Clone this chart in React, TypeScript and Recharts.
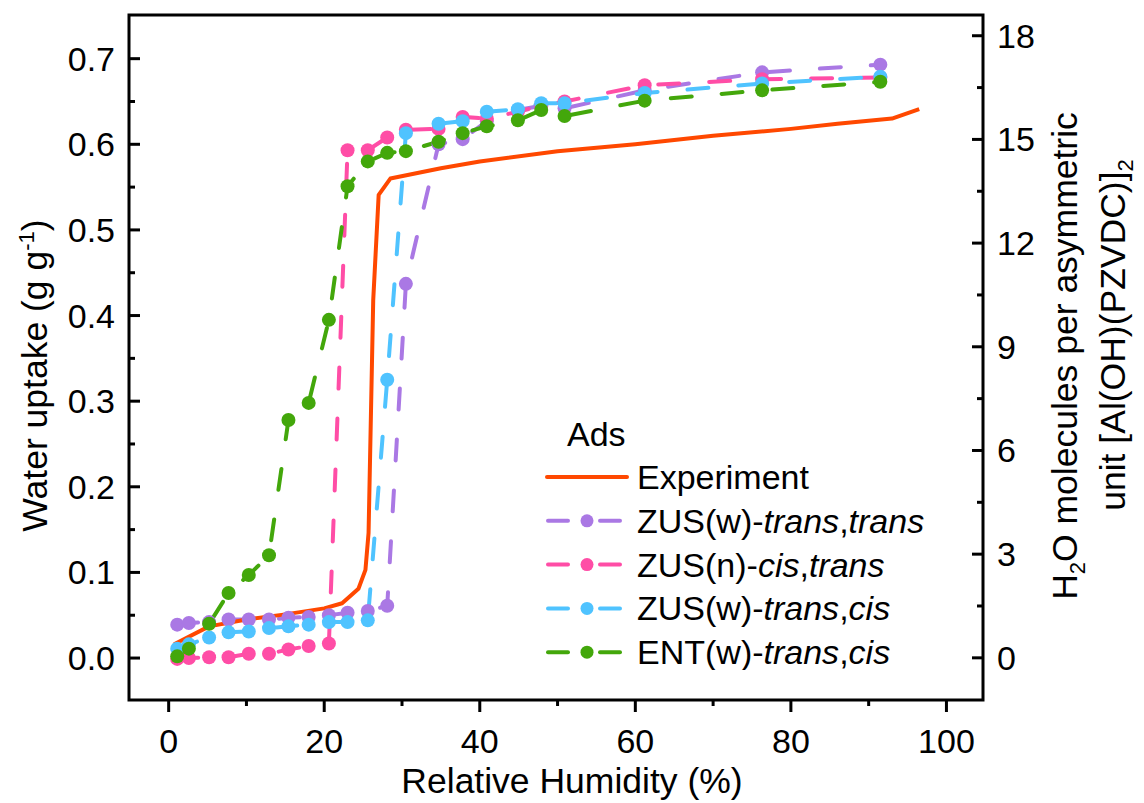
import React from "react";
import { LineChart, Line, XAxis, YAxis, Legend, ReferenceArea } from "recharts";

// relative humidity (%) of the simulated isotherm points
const simRH = [1.1, 2.6, 5.2, 7.7, 10.3, 12.9, 15.4, 18.0, 20.6, 23.0, 25.6, 28.1, 30.5, 34.7, 37.8, 40.9, 44.9, 47.9, 50.9, 61.2, 76.3, 91.5];

// water uptake (g/g)
const zusWTransTrans = [0.039, 0.041, 0.042, 0.045, 0.045, 0.045, 0.047, 0.048, 0.05, 0.053, 0.055, 0.061, 0.437, 0.6, 0.606, 0.627, 0.64, 0.645, 0.642, 0.663, 0.684, 0.693];
const zusNCisTrans = [-0.001, 0.0, 0.001, 0.001, 0.005, 0.005, 0.01, 0.014, 0.017, 0.593, 0.593, 0.608, 0.617, 0.618, 0.632, 0.63, 0.638, 0.645, 0.65, 0.669, 0.676, 0.678];
const zusWTransCis = [0.011, 0.016, 0.024, 0.03, 0.031, 0.035, 0.037, 0.039, 0.042, 0.042, 0.044, 0.325, 0.613, 0.624, 0.627, 0.638, 0.641, 0.648, 0.648, 0.66, 0.671, 0.679];
const entWTransCis = [0.002, 0.011, 0.04, 0.076, 0.097, 0.12, 0.278, 0.298, 0.395, 0.551, 0.58, 0.59, 0.592, 0.603, 0.613, 0.621, 0.628, 0.64, 0.633, 0.651, 0.663, 0.673];

// experimental isotherm
const expRH = [0.7, 5.2, 10, 15, 20, 22.3, 24.4, 25.3, 25.7, 26.3, 27.0, 28.5, 35, 40, 50, 60, 70, 80, 86, 93, 96.5];
const expUptake = [0.016, 0.037, 0.045, 0.051, 0.058, 0.064, 0.081, 0.103, 0.146, 0.418, 0.541, 0.56, 0.572, 0.58, 0.592, 0.6, 0.61, 0.618, 0.624, 0.63, 0.641];

// axis ticks
const rhTicks = [0, 10, 20, 30, 40, 50, 60, 70, 80, 90, 100];
const rhLabels = [0, 20, 40, 60, 80, 100];
const uptakeTicks = [0, 0.05, 0.1, 0.15, 0.2, 0.25, 0.3, 0.35, 0.4, 0.45, 0.5, 0.55, 0.6, 0.65, 0.7];
const uptakeLabels = [0, 0.1, 0.2, 0.3, 0.4, 0.5, 0.6, 0.7];
const moleculeTicks = [0, 1.5, 3, 4.5, 6, 7.5, 9, 10.5, 12, 13.5, 15, 16.5, 18];
const moleculeLabels = [0, 3, 6, 9, 12, 15, 18];

const ORANGE = "#FF4800";
const PURPLE = "#AA78E4";
const PINK = "#FF4DA6";
const BLUE = "#4FC3FF";
const GREEN = "#43A70B";

const FONT = "'Liberation Sans', Arial, sans-serif";
const TICK_FONT = 34;
const TITLE_FONT = 35.5;
const LEGEND_FONT = 34;

const toPoints = (xs: number[], ys: number[]) => xs.map((x, i) => ({ rh: x, uptake: ys[i] }));
const isIn = (list: number[], v: number) => list.some((m) => Math.abs(m - v) < 1e-6);

// bottom ticks point out, left/right ticks point into the frame
const XTick = (props: any) => {
  const { x, y, payload } = props;
  const major = isIn(rhLabels, payload.value);
  return (
    <g>
      <line x1={x} x2={x} y1={y} y2={y + (major ? 12 : 6)} stroke="#000" strokeWidth={3} />
      {major && (
        <text x={x} y={y + 53} textAnchor="middle" fontSize={TICK_FONT} fontFamily={FONT} fill="#000">
          {payload.value}
        </text>
      )}
    </g>
  );
};

const LeftTick = (props: any) => {
  const { x, y, payload } = props;
  const major = isIn(uptakeLabels, payload.value);
  return (
    <g>
      <line x1={x} x2={x + (major ? 11 : 6)} y1={y} y2={y} stroke="#000" strokeWidth={3} />
      {major && (
        <text x={x - 14} y={y + 12} textAnchor="end" fontSize={TICK_FONT} fontFamily={FONT} fill="#000">
          {payload.value.toFixed(1)}
        </text>
      )}
    </g>
  );
};

const RightTick = (props: any) => {
  const { x, y, payload } = props;
  const major = isIn(moleculeLabels, payload.value);
  return (
    <g>
      <line x1={x} x2={x - (major ? 11 : 6)} y1={y} y2={y} stroke="#000" strokeWidth={3} />
      {major && (
        <text x={x + 14} y={y + 12} textAnchor="start" fontSize={TICK_FONT} fontFamily={FONT} fill="#000">
          {payload.value}
        </text>
      )}
    </g>
  );
};

const XTitle = (props: any) => {
  const { x, y, width } = props.viewBox;
  return (
    <text x={x + width / 2 + 16} y={y + 93} textAnchor="middle" fontSize={TITLE_FONT} fontFamily={FONT} fill="#000">
      Relative Humidity (%)
    </text>
  );
};

const LeftTitle = (props: any) => {
  const { x, y, height } = props.viewBox;
  const cx = x + 47;
  const cy = y + height / 2 + 18;
  return (
    <text x={cx} y={cy} transform={`rotate(-90 ${cx} ${cy})`} textAnchor="middle" fontSize={TITLE_FONT} fontFamily={FONT} fill="#000">
      Water uptake (g g
      <tspan dy={-13} fontSize={22}>-1</tspan>
      <tspan dy={13}>)</tspan>
    </text>
  );
};

const RightTitle = (props: any) => {
  const { x } = props.viewBox;
  const x1 = x + 94;
  const y1 = 356;
  const x2 = x + 142;
  const y2 = 335;
  return (
    <g>
      <text x={x1} y={y1} transform={`rotate(-90 ${x1} ${y1})`} textAnchor="middle" fontSize={TITLE_FONT} fontFamily={FONT} fill="#000">
        H<tspan dy={8} fontSize={22}>2</tspan>
        <tspan dy={-8}>O molecules per asymmetric</tspan>
      </text>
      <text x={x2} y={y2} transform={`rotate(-90 ${x2} ${y2})`} textAnchor="middle" fontSize={TITLE_FONT} fontFamily={FONT} fill="#000">
        unit [Al(OH)(PZVDC)]<tspan dy={8} fontSize={22}>2</tspan>
      </text>
    </g>
  );
};

const legendRows = [
  { color: ORANGE, dashed: false, label: [["Experiment", false]] },
  { color: PURPLE, dashed: true, label: [["ZUS(w)-", false], ["trans", true], [",", false], ["trans", true]] },
  { color: PINK, dashed: true, label: [["ZUS(n)-", false], ["cis", true], [",", false], ["trans", true]] },
  { color: BLUE, dashed: true, label: [["ZUS(w)-", false], ["trans", true], [",", false], ["cis", true]] },
  { color: GREEN, dashed: true, label: [["ENT(w)-", false], ["trans", true], [",", false], ["cis", true]] },
];

const renderLegend = () => (
  <svg width={410} height={265} style={{ display: "block" }}>
    <text x={27} y={41} fontSize={LEGEND_FONT} fontFamily={FONT} fill="#000">
      Ads
    </text>
    {legendRows.map((row, i) => {
      const cy = 72 + i * 43.8;
      return (
        <g key={i}>
          {row.dashed ? (
            <g>
              <line x1={8} x2={28} y1={cy} y2={cy} stroke={row.color} strokeWidth={4} strokeLinecap="round" />
              <line x1={60} x2={80} y1={cy} y2={cy} stroke={row.color} strokeWidth={4} strokeLinecap="round" />
              <circle cx={47} cy={cy} r={6.5} fill={row.color} />
            </g>
          ) : (
            <line x1={7} x2={87} y1={cy} y2={cy} stroke={row.color} strokeWidth={4} strokeLinecap="round" />
          )}
          <text x={97} y={cy + 12} fontSize={LEGEND_FONT} fontFamily={FONT} fill="#000">
            {row.label.map(([t, it], j) => (
              <tspan key={j} fontStyle={it ? "italic" : "normal"}>
                {t as string}
              </tspan>
            ))}
          </text>
        </g>
      );
    })}
  </svg>
);

const simLine = (data: number[], color: string) => (
  <Line
    data={toPoints(simRH, data)}
    dataKey="uptake"
    yAxisId="left"
    type="linear"
    stroke={color}
    strokeWidth={4}
    strokeDasharray="21 30"
    strokeLinecap="round"
    dot={{ r: 7, fill: color, stroke: "none" }}
    activeDot={false}
    isAnimationActive={false}
  />
);

export default function App() {
  return (
    <div style={{ position: "absolute", left: 0, top: 0, width: 1144, height: 803, background: "#fff" }}>
      <LineChart width={1144} height={803} margin={{ top: 15, right: 0, bottom: 0, left: 0 }}>
        <XAxis
          dataKey="rh"
          type="number"
          domain={[-5.1, 104.7]}
          allowDataOverflow
          ticks={rhTicks}
          interval={0}
          tick={XTick}
          tickLine={false}
          tickSize={0}
          tickMargin={0}
          axisLine={false}
          height={103}
          label={{ content: XTitle }}
        />
        <YAxis
          yAxisId="left"
          type="number"
          domain={[-0.049, 0.751]}
          allowDataOverflow
          ticks={uptakeTicks}
          interval={0}
          tick={LeftTick}
          tickLine={false}
          tickSize={0}
          tickMargin={0}
          axisLine={false}
          width={129}
          label={{ content: LeftTitle }}
        />
        <YAxis
          yAxisId="right"
          orientation="right"
          type="number"
          domain={[-1.22, 18.6]}
          allowDataOverflow
          ticks={moleculeTicks}
          interval={0}
          tick={RightTick}
          tickLine={false}
          tickSize={0}
          tickMargin={0}
          axisLine={false}
          width={161}
          label={{ content: RightTitle }}
        />
        <ReferenceArea
          yAxisId="left"
          x1={-5.1}
          x2={104.7}
          y1={-0.049}
          y2={0.751}
          fill="none"
          stroke="#000"
          strokeWidth={3}
          ifOverflow="visible"
        />
        {simLine(zusWTransTrans, PURPLE)}
        {simLine(zusNCisTrans, PINK)}
        {simLine(zusWTransCis, BLUE)}
        <Line
          data={toPoints(expRH, expUptake)}
          dataKey="uptake"
          yAxisId="left"
          type="linear"
          stroke={ORANGE}
          strokeWidth={4}
          strokeLinejoin="round"
          dot={false}
          activeDot={false}
          isAnimationActive={false}
        />
        {simLine(entWTransCis, GREEN)}
        <Legend
          layout="horizontal"
          verticalAlign="middle"
          align="center"
          wrapperStyle={{ left: 540, top: 405, width: 420, height: 265 }}
          content={renderLegend}
        />
      </LineChart>
    </div>
  );
}
